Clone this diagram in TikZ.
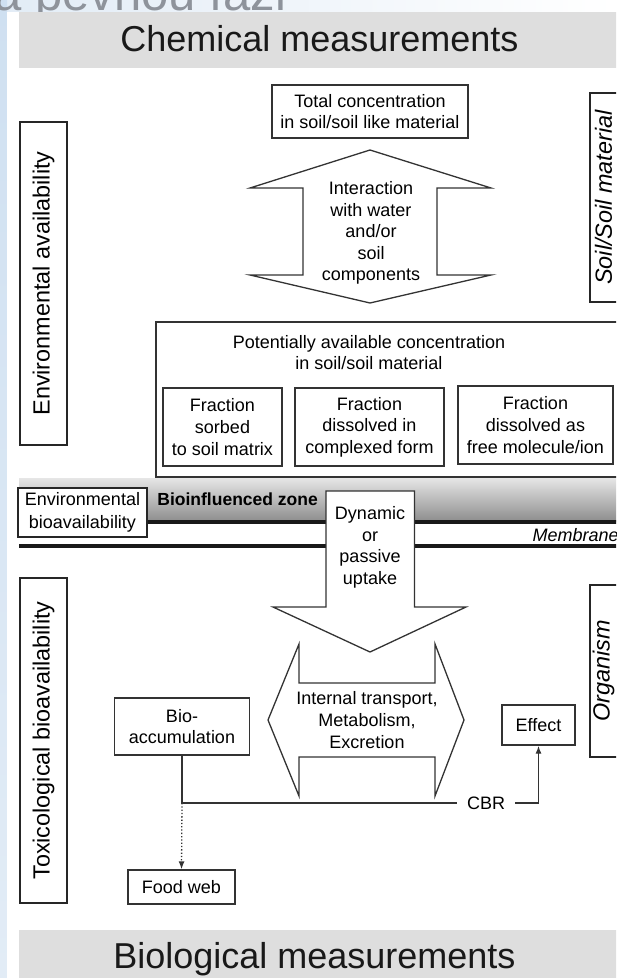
\documentclass[tikz,border=0pt]{standalone}
\usepackage{fontspec}
\setmainfont{Liberation Sans}
\usetikzlibrary{arrows.meta}
\definecolor{bandgrey}{HTML}{DEDEDE}
\definecolor{linec}{HTML}{333333}
\definecolor{slideblue}{HTML}{E2ECF6}
\definecolor{slideblueb}{HTML}{CFE0F1}
\definecolor{titlegrey}{HTML}{8E939B}
\definecolor{gradtop}{HTML}{E6E6E6}
\definecolor{gradbot}{HTML}{8E8E8E}
\newcommand\dsmall{\fontsize{9}{10.8}\selectfont}
\newcommand\sidefnt{\fontsize{11.7}{14}\selectfont}
\newcommand\bandfnt{\fontsize{18}{21}\selectfont}
\begin{document}
\begin{tikzpicture}[x=0.5pt,y=-0.5pt,
  box/.style={draw=linec, line width=0.65pt, fill=white, inner sep=0pt, align=center, font=\dsmall},
  sidebox/.style={draw=black!85, line width=1.25pt, fill=white, inner sep=0pt},
  sidetext/.style={rotate=90, font=\sidefnt, inner sep=0pt},
  blockarrow/.style={draw=linec, line width=0.65pt, fill=white, line join=miter},
  txt/.style={font=\dsmall, align=center, inner sep=0pt},
  conn/.style={draw=linec, line width=0.65pt},
  endtip/.style={-{Latex[length=4pt,width=3pt]}}
]
\useasboundingbox (0,0) rectangle (616,978);
\clip (0,0) rectangle (616,978);
% slide background
\fill[white] (0,0) rectangle (616,978);
\shade[left color=slideblue, right color=white] (0,0) rectangle (616,12);
\shade[top color=slideblueb, bottom color=slideblue] (0,0) rectangle (7,978);
\node[anchor=base west, text=titlegrey, font=\fontsize{24.5}{29}\selectfont, inner sep=0pt] (slidetitle) at (-33,11) {na pevnou fázi};
\fill[white] (7,12) rectangle (616,978);
% bands
\fill[bandgrey] (19,12) rectangle (640,68);
\node[anchor=base, font=\bandfnt, inner sep=0pt, text=black!90] (chem) at (319.5,52) {Chemical measurements};
\fill[bandgrey] (19,930) rectangle (640,990);
\node[anchor=base, font=\bandfnt, inner sep=0pt, text=black!90] (biol) at (314.5,968) {Biological measurements};
% side boxes
\node[sidebox, minimum width=23.5pt, minimum height=161.5pt] (envav) at (43.5,283.5) {};
\node[sidetext] (envavt) at (43.5,283.5) {Environmental availability};
\node[sidebox, minimum width=23.5pt, minimum height=162.5pt] (toxav) at (43.5,740.5) {};
\node[sidetext] (toxavt) at (43.5,740.5) {Toxicological bioavailability};
\node[sidebox, minimum width=25pt, minimum height=104.5pt] (soil) at (615,197.5) {};
\node[sidetext, font=\sidefnt\itshape] (soilt) at (603.5,197.5) {Soil/Soil material};
\node[sidebox, minimum width=25pt, minimum height=86pt] (org) at (615,671) {};
\node[sidetext, font=\sidefnt\itshape] (orgt) at (603.5,671) {Organism};
% total concentration
\node[box, minimum width=98pt, minimum height=26.5pt] (total) at (370,111.5) {Total concentration\\in soil/soil like material};
% up-down arrow
\draw[blockarrow] (370,150) -- (491,188) -- (437,188) -- (437,275) -- (491,275) -- (370,303) -- (250,275) -- (303,275) -- (303,188) -- (250,188) -- cycle;
\node[txt] (inter) at (371,233) {Interaction\\with water\\and/or\\soil\\components};
% bioinfluenced zone band and membrane
\shade[top color=gradtop, bottom color=gradbot] (19,478) rectangle (640,521);
\draw[line width=2pt, black!90] (147,522) -- (640,522);
\draw[line width=2pt, black!90] (19,546) -- (640,546);
\node[anchor=base east, font=\dsmall\itshape, inner sep=0pt] (memb) at (619,541) {Membrane};
\node[anchor=base west, font=\fontsize{8.75}{10}\selectfont\bfseries, inner sep=0pt] (bioz) at (157,505) {Bioinfluenced zone};
% potentially available
\node[box, minimum width=242pt, minimum height=77.5pt] (pot) at (398,399.5) {};
\node[txt] (pott) at (369,352.5) {Potentially available concentration\\in soil/soil material};
\node[box, minimum width=59.5pt, minimum height=39pt] (f1) at (222.5,427) {Fraction\\sorbed\\to soil matrix};
\node[box, minimum width=74.5pt, minimum height=39pt] (f2) at (369.5,427) {Fraction\\dissolved in\\complexed form};
\node[box, minimum width=77.5pt, minimum height=39pt] (f3) at (535.5,425) {Fraction\\dissolved as\\free molecule/ion};
% environmental bioavailability
\node[box, line width=1pt, draw=black!85, minimum width=64.5pt, minimum height=24.5pt, font=\fontsize{9}{11.6}\selectfont] (envbio) at (82.5,512.5) {Environmental\\bioavailability};
% dynamic uptake arrow
\draw[blockarrow] (326,491) -- (414.5,491) -- (414.5,607) -- (466,607) -- (370,652) -- (273,607) -- (326,607) -- cycle;
\node[txt] (dyn) at (370,547.5) {Dynamic\\or\\passive\\uptake};
% internal transport double arrow
\draw[blockarrow] (268,720) -- (299,644) -- (299,683) -- (435,683) -- (435,644) -- (464,720) -- (435,796) -- (435,757) -- (299,757) -- (299,796) -- cycle;
\node[txt] (itm) at (367,720) {Internal transport,\\Metabolism,\\Excretion};
% bioaccumulation, effect, food web
\node[box, minimum width=67.75pt, minimum height=28.5pt, font=\fontsize{9}{10.2}\selectfont] (bio) at (182,726.5) {Bio-\\accumulation};
\node[box, minimum width=36.5pt, minimum height=20pt] (effect) at (538.5,725) {Effect};
\node[txt, inner xsep=5pt, inner ysep=0pt] (cbr) at (486,803) {CBR};
\coordinate (split) at (bio.south |- cbr.west);
\draw[conn] (bio.south) -- (split) -- (cbr.west);
\draw[conn, endtip] (cbr.east) -| (effect.south);
\node[box, minimum width=53.5pt, minimum height=17pt] (food) at (181.5,887) {Food web};
\draw[conn, densely dotted, endtip] (split) -- (food.north);
\end{tikzpicture}
\end{document}
